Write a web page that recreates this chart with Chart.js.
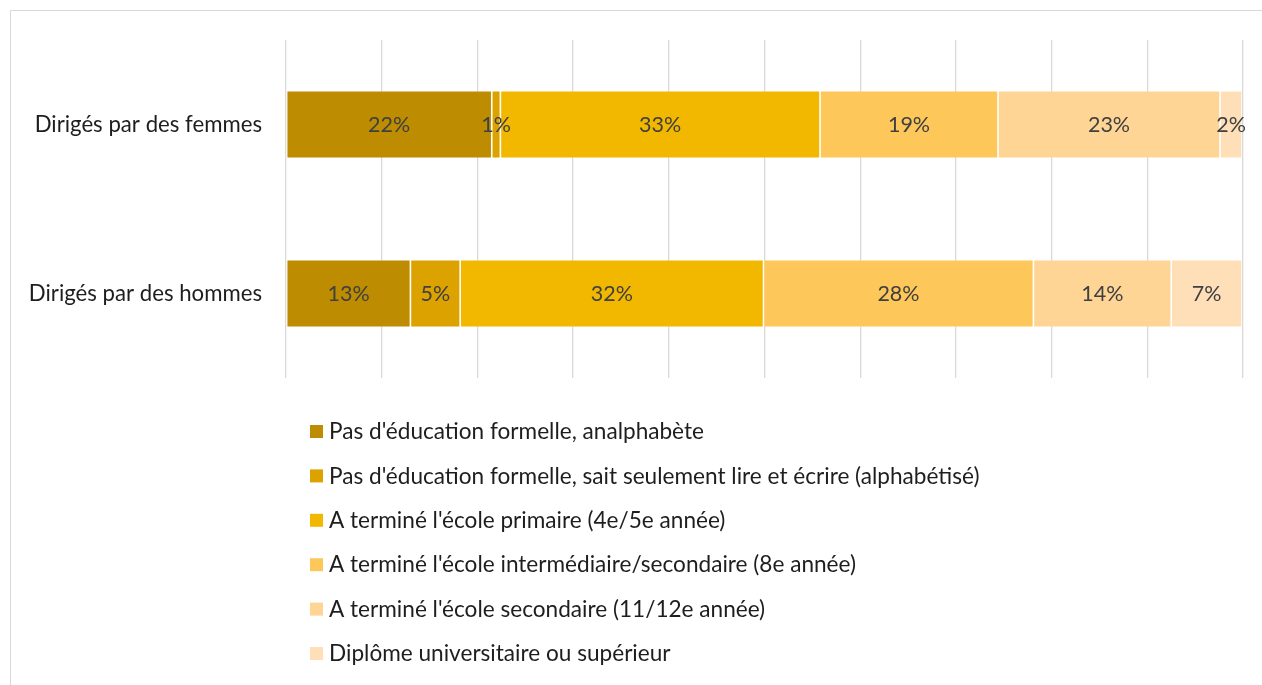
<!DOCTYPE html>
<html lang="fr">
<head>
<meta charset="utf-8">
<title>Niveau d'éducation du chef de ménage</title>
<script src="https://cdn.jsdelivr.net/npm/chart.js@4.4.1/dist/chart.umd.min.js"></script>
<style>
  html, body { margin: 0; padding: 0; background: #fff; }
  .cadre {
    position: absolute; left: 10px; top: 10px; right: 0; bottom: 0;
    border-left: 1px solid #d9d9d9; border-top: 1px solid #d9d9d9;
  }
  .zone { position: absolute; left: 0; top: 0; width: 1262px; height: 685px; }
</style>
</head>
<body>
<div class="cadre"></div>
<div class="zone"><canvas id="graphique"></canvas></div>
<script>
const categories = ["Dirigés par des femmes", "Dirigés par des hommes"];
const niveaux = [
    "Pas d'éducation formelle, analphabète",
    "Pas d'éducation formelle, sait seulement lire et écrire (alphabétisé)",
    "A terminé l'école primaire (4e/5e année)",
    "A terminé l'école intermédiaire/secondaire (8e année)",
    "A terminé l'école secondaire (11/12e année)",
    "Diplôme universitaire ou supérieur"
];
// parts en %, dans l'ordre des niveaux
const femmes = [21.5, 0.9, 33.4, 18.6, 23.2, 2.3];
const hommes = [13.0, 5.2, 31.7, 28.2, 14.4, 7.4];
const couleurs = ["#BD8C00", "#DBA200", "#F2B800", "#FEC75A", "#FED595", "#FFDFB8"];

const police = "Lato, 'Open Sans', sans-serif";
Chart.defaults.font.family = police;

// étiquettes au centre de chaque segment
const etiquettes = {
    id: 'etiquettes',
    afterDatasetsDraw(chart) {
        const c = chart.ctx;
        c.save();
        c.font = "21.5px " + police;
        c.fillStyle = "#404040";
        c.textAlign = "center";
        c.textBaseline = "middle";
        chart.data.datasets.forEach((ds, i) => {
            chart.getDatasetMeta(i).data.forEach((bar, j) => {
                c.fillText(Math.round(ds.data[j]) + "%", (bar.x + bar.base) / 2, bar.y + 1);
            });
        });
        c.restore();
    }
};

// légende verticale sous le graphique
const legendeVerticale = {
    id: 'legendeVerticale',
    afterDraw(chart) {
        const c = chart.ctx;
        const x0 = chart.chartArea.left + 24;
        let y = chart.chartArea.bottom + 54;
        c.save();
        c.font = "22.6px " + police;
        c.textBaseline = "middle";
        chart.data.datasets.forEach(ds => {
            c.fillStyle = ds.backgroundColor;
            c.fillRect(x0, y - 7, 13, 13);
            c.fillStyle = "#1e1e1e";
            c.fillText(ds.label, x0 + 19, y);
            y += 44.4;
        });
        c.restore();
    }
};

new Chart(document.getElementById("graphique"), {
    type: 'bar',
    data: {
        labels: categories,
        datasets: niveaux.map((n, i) => ({
            label: n,
            data: [femmes[i], hommes[i]],
            backgroundColor: couleurs[i],
            borderColor: "rgba(255,255,255,0.6)",
            borderWidth: 0.8,
            borderSkipped: false,
            barPercentage: 0.4,
            categoryPercentage: 1
        }))
    },
    options: {
        indexAxis: 'y',
        responsive: true,
        maintainAspectRatio: false,
        animation: false,
        layout: { padding: { top: 40, right: 19, bottom: 307, left: 0 } },
        scales: {
            x: {
                stacked: true,
                min: 0,
                max: 100,
                ticks: { display: false, stepSize: 10 },
                grid: { color: "#d9d9d9", lineWidth: 1.3, drawTicks: false },
                border: { display: false },
                afterFit: s => { s.height = 0; }
            },
            y: {
                stacked: true,
                grid: { display: false, drawTicks: false },
                border: { display: false },
                ticks: { color: "#1e1e1e", font: { size: 22.2 }, padding: 24 },
                afterFit: s => { s.width = 286; }
            }
        },
        plugins: {
            legend: { display: false },
            tooltip: { enabled: false }
        }
    },
    plugins: [etiquettes, legendeVerticale]
});
</script>
</body>
</html>
